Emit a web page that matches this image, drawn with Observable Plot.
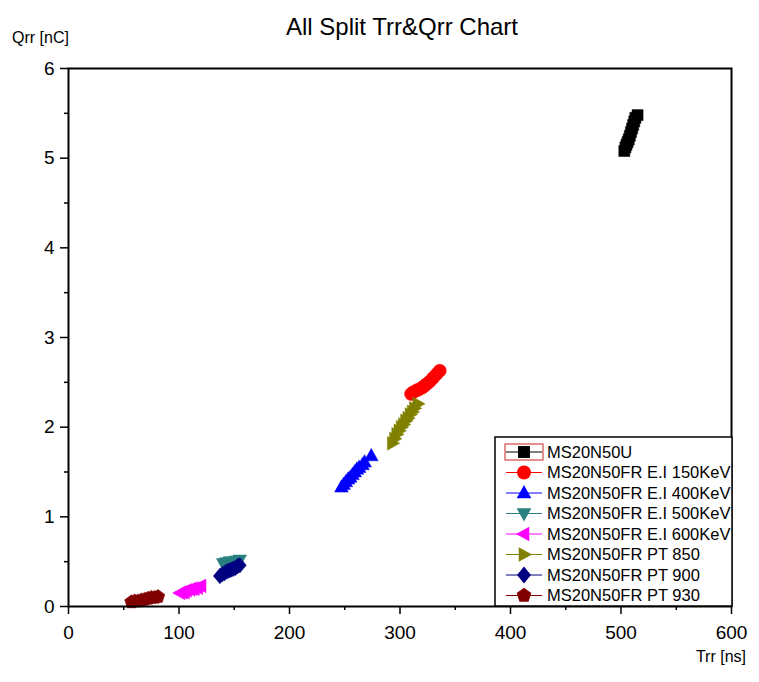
<!DOCTYPE html>
<html>
<head>
<meta charset="utf-8">
<script src="https://cdn.jsdelivr.net/npm/d3@7"></script>
<script src="https://cdn.jsdelivr.net/npm/@observablehq/plot@0.6"></script>
<style>
html, body { margin: 0; padding: 0; background: #fff; }
#chart svg { display: block; }
</style>
</head>
<body>
<div id="chart"></div>
<script>
// ---- data ----
const seriesNames = [
  "MS20N50U",
  "MS20N50FR E.I 150KeV",
  "MS20N50FR E.I 400KeV",
  "MS20N50FR E.I 500KeV",
  "MS20N50FR E.I 600KeV",
  "MS20N50FR PT 850",
  "MS20N50FR PT 900",
  "MS20N50FR PT 930"
];
const seriesColors = ["#000000", "#ff0000", "#0000ff", "#2a8080", "#ff00ff", "#808000", "#000080", "#800000"];
const seriesSymbols = ["square", "circle", "triangleUp", "triangleDown", "triangleLeft", "triangleRight", "diamond", "pentagon"];

const trrU     = [503, 504, 505, 506, 507, 508, 509, 510, 511, 512, 513, 515];
const qrrU     = [5.08, 5.12, 5.15, 5.18, 5.21, 5.25, 5.29, 5.33, 5.37, 5.41, 5.45, 5.48];
const trr150   = [310, 312, 315, 317, 320, 322, 324, 327, 330, 333, 336];
const qrr150   = [2.37, 2.39, 2.41, 2.42, 2.44, 2.46, 2.48, 2.51, 2.55, 2.59, 2.63];
const trr400   = [247, 249, 251, 253, 255, 257, 259, 261, 263, 266, 268, 274];
const qrr400   = [1.33, 1.36, 1.39, 1.42, 1.44, 1.47, 1.50, 1.53, 1.55, 1.58, 1.61, 1.68];
const trr500   = [140, 143, 146, 149, 152, 155];
const qrr500   = [0.48, 0.49, 0.50, 0.50, 0.51, 0.52];
const trr600   = [101, 103, 105, 107, 110, 112, 114, 117, 120];
const qrr600   = [0.15, 0.16, 0.16, 0.18, 0.19, 0.20, 0.20, 0.21, 0.23];
const trr850   = [293, 295, 297, 299, 301, 303, 305, 307, 309, 311, 313, 316];
const qrr850   = [1.82, 1.87, 1.92, 1.96, 2.00, 2.03, 2.07, 2.10, 2.14, 2.17, 2.21, 2.26];
const trr900   = [137, 139, 141, 143, 145, 147, 149, 151, 153, 155];
const qrr900   = [0.34, 0.36, 0.37, 0.39, 0.40, 0.41, 0.42, 0.43, 0.45, 0.46];
const trr930   = [57, 60, 63, 66, 69, 72, 75, 78, 81];
const qrr930   = [0.05, 0.06, 0.06, 0.07, 0.08, 0.09, 0.10, 0.10, 0.11];

const trrAll = [trrU, trr150, trr400, trr500, trr600, trr850, trr900, trr930];
const qrrAll = [qrrU, qrr150, qrr400, qrr500, qrr600, qrr850, qrr900, qrr930];

const xTicks = [0, 100, 200, 300, 400, 500, 600];
const yTicks = [0, 1, 2, 3, 4, 5, 6];
const xMinor = [50, 150, 250, 350, 450, 550];
const yMinor = [0.5, 1.5, 2.5, 3.5, 4.5, 5.5];

const titleText = "All Split Trr&Qrr Chart";
const xLabel = "Trr [ns]";
const yLabel = "Qrr [nC]";

// ---- symbols ----
function makeSymbol(kind) {
  return {
    draw(ctx, size) {
      const r = Math.sqrt(size / Math.PI);
      if (kind === "square") {
        const s = r * 0.85; ctx.rect(-s, -s, 2 * s, 2 * s);
      } else if (kind === "circle") {
        ctx.moveTo(r, 0); ctx.arc(0, 0, r, 0, 2 * Math.PI);
      } else if (kind === "triangleUp") {
        ctx.moveTo(0, -r * 1.15); ctx.lineTo(r * 1.05, r * 0.75); ctx.lineTo(-r * 1.05, r * 0.75); ctx.closePath();
      } else if (kind === "triangleDown") {
        ctx.moveTo(0, r * 1.15); ctx.lineTo(r * 1.05, -r * 0.75); ctx.lineTo(-r * 1.05, -r * 0.75); ctx.closePath();
      } else if (kind === "triangleLeft") {
        ctx.moveTo(-r * 1.15, 0); ctx.lineTo(r * 0.75, -r * 1.05); ctx.lineTo(r * 0.75, r * 1.05); ctx.closePath();
      } else if (kind === "triangleRight") {
        ctx.moveTo(r * 1.15, 0); ctx.lineTo(-r * 0.75, -r * 1.05); ctx.lineTo(-r * 0.75, r * 1.05); ctx.closePath();
      } else if (kind === "diamond") {
        ctx.moveTo(0, -r * 1.2); ctx.lineTo(r * 1.0, 0); ctx.lineTo(0, r * 1.2); ctx.lineTo(-r * 1.0, 0); ctx.closePath();
      } else if (kind === "pentagon") {
        for (let i = 0; i < 5; i++) {
          const a = -Math.PI / 2 + i * 2 * Math.PI / 5;
          const px = Math.cos(a) * r * 1.1, py = Math.sin(a) * r * 1.1;
          if (i === 0) ctx.moveTo(px, py); else ctx.lineTo(px, py);
        }
        ctx.closePath();
      }
    }
  };
}

const R = 6.5;
const RL = 7;
const W = 759, H = 682;
const mL = 68, mR = 28, mT = 68, mB = 76;

const dotMarks = seriesNames.map((name, i) => {
  const rows = trrAll[i].map((t, j) => ({trr: t, qrr: qrrAll[i][j], series: name}));
  return Plot.dot(rows, {x: "trr", y: "qrr", r: R, fill: seriesColors[i], stroke: seriesColors[i], strokeWidth: 0.5, symbol: makeSymbol(seriesSymbols[i])});
});

const plot = Plot.plot({
  width: W, height: H,
  marginLeft: mL, marginRight: mR, marginTop: mT, marginBottom: mB,
  style: {fontFamily: "'Liberation Sans', Arial, sans-serif", color: "#000", background: "#fff"},
  x: {domain: [0, 600]},
  y: {domain: [0, 6]},
  marks: [
    ...dotMarks,
    Plot.axisX({ticks: xTicks, tickSize: 8, tickPadding: 11, fontSize: 19, label: null, strokeWidth: 1.5, tickFormat: d => String(d)}),
    Plot.axisX({ticks: xMinor, tickSize: 4, tickFormat: () => "", label: null, strokeWidth: 1.5}),
    Plot.axisY({ticks: yTicks, tickSize: 8, tickPadding: 6, fontSize: 19, label: null, strokeWidth: 1.5, tickFormat: d => String(d)}),
    Plot.axisY({ticks: yMinor, tickSize: 4, tickFormat: () => "", label: null, strokeWidth: 1.5}),
    Plot.frame({stroke: "#000", strokeWidth: 2})
  ]
});

document.getElementById("chart").appendChild(plot);

// ---- titles & legend ----
const svg = d3.select(plot);
const font = "'Liberation Sans', Arial, sans-serif";
svg.append("text").attr("x", 402).attr("y", 35).attr("text-anchor", "middle")
  .attr("font-family", font).attr("font-size", 24).attr("fill", "#000").text(titleText);
svg.append("text").attr("x", 12).attr("y", 43).attr("text-anchor", "start")
  .attr("font-family", font).attr("font-size", 16).attr("fill", "#000").text(yLabel);
svg.append("text").attr("x", 746).attr("y", 662).attr("text-anchor", "end")
  .attr("font-family", font).attr("font-size", 16).attr("fill", "#000").text(xLabel);

const lg = svg.append("g");
const lx0 = 495, ly0 = 437, lw = 237, lh = 169;
lg.append("rect").attr("x", lx0).attr("y", ly0).attr("width", lw).attr("height", lh)
  .attr("fill", "#fff").attr("stroke", "#000").attr("stroke-width", 1.5);
lg.append("rect").attr("x", 505).attr("y", 444).attr("width", 38).attr("height", 16)
  .attr("fill", "none").attr("stroke", "#d02020").attr("stroke-width", 1);
seriesNames.forEach((name, i) => {
  const cy = 452 + i * 20.5;
  lg.append("line").attr("x1", 506).attr("x2", 542).attr("y1", cy).attr("y2", cy)
    .attr("stroke", seriesColors[i]).attr("stroke-width", 1);
  const p = d3.path();
  makeSymbol(seriesSymbols[i]).draw(p, Math.PI * RL * RL);
  lg.append("path").attr("d", p.toString()).attr("transform", `translate(524,${cy})`)
    .attr("fill", seriesColors[i]);
  lg.append("text").attr("x", 547).attr("y", cy).attr("dy", "0.36em").attr("text-anchor", "start")
    .attr("font-family", font).attr("font-size", 16.5).attr("fill", "#000").text(name);
});
</script>
</body>
</html>
